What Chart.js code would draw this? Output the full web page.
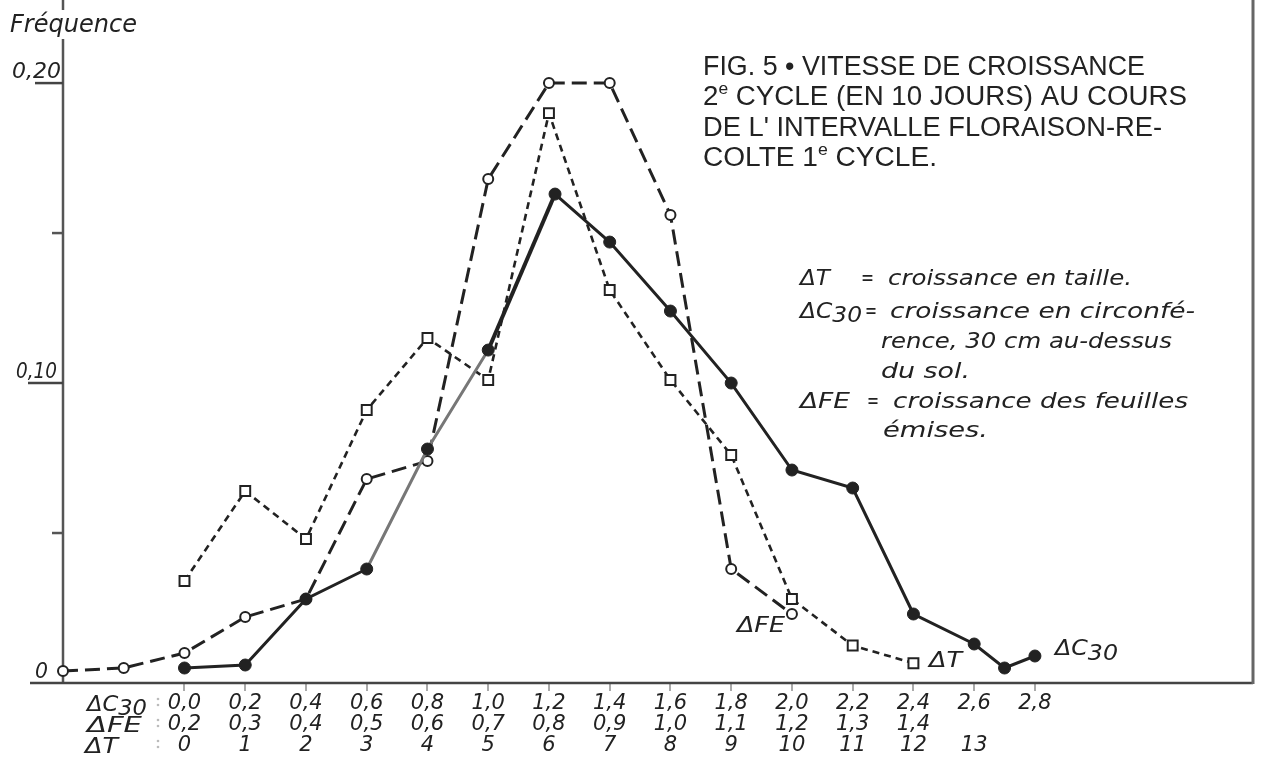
<!DOCTYPE html>
<html lang="fr">
<head>
<meta charset="utf-8">
<title>Fig. 5 - Vitesse de croissance</title>
<script src="https://cdn.jsdelivr.net/npm/chart.js@4.4.1/dist/chart.umd.min.js"></script>
<style>
  html, body { margin: 0; padding: 0; background: #fff; }
  #wrap { width: 1262px; height: 760px; }
</style>
</head>
<body>
<div id="wrap"><canvas id="fig5" width="1262" height="760"></canvas></div>
<script>
// x is a "step" number: step k <-> ΔC30 = 0,2k ; ΔFE = 0,2 + 0,1k ; ΔT = k
const c30Labels = ['0,0', '0,2', '0,4', '0,6', '0,8', '1,0', '1,2', '1,4', '1,6', '1,8', '2,0', '2,2', '2,4', '2,6', '2,8'];
const feLabels  = ['0,2', '0,3', '0,4', '0,5', '0,6', '0,7', '0,8', '0,9', '1,0', '1,1', '1,2', '1,3', '1,4'];
const tLabels   = ['0', '1', '2', '3', '4', '5', '6', '7', '8', '9', '10', '11', '12', '13'];

const yTickValues = [0, 0.10, 0.20];
const yTickLabels = ['0', '0,10', '0,20'];
const yMinorValues = [0.05, 0.15];

// ΔC30 - circonférence (points pleins, trait continu)
const c30X = [0, 1, 2, 3, 4, 5, 6.1, 7, 8, 9, 10, 11, 12, 13, 13.5, 14];
const c30Y = [0.005, 0.006, 0.028, 0.038, 0.078, 0.111, 0.163, 0.147, 0.124, 0.100, 0.071, 0.065, 0.023, 0.013, 0.005, 0.009];

// ΔFE - feuilles émises (cercles vides, tirets longs)
const feX = [-2, -1, 0, 1, 2, 3, 4, 5, 6, 7, 8, 9, 10];
const feY = [0.004, 0.005, 0.010, 0.022, 0.028, 0.068, 0.074, 0.168, 0.200, 0.200, 0.156, 0.038, 0.023];

// ΔT - taille (carrés vides, tirets courts)
const tX = [0, 1, 2, 3, 4, 5, 6, 7, 8, 9, 10, 11, 12];
const tY = [0.034, 0.064, 0.048, 0.091, 0.115, 0.101, 0.190, 0.131, 0.101, 0.076, 0.028, 0.0125, 0.0066];

const INK = '#222';
const HAND = 'DejaVu Sans';
const PRINT = 'Liberation Sans';

function toPoints(xs, ys) {
  return xs.map((x, i) => ({ x: x, y: ys[i] }));
}

// draw a row of text pieces [text, size, dy], squeezed to a given width
function drawRuns(ctx, family, style, parts, x, y, width) {
  const fontOf = p => style + ' ' + p[1] + 'px "' + family + '"';
  let total = 0;
  parts.forEach(p => { ctx.font = fontOf(p); total += ctx.measureText(p[0]).width; });
  const sx = width ? width / total : 1;
  ctx.save();
  ctx.translate(x, y);
  ctx.scale(sx, 1);
  ctx.textAlign = 'left';
  ctx.textBaseline = 'alphabetic';
  ctx.fillStyle = INK;
  let cx = 0;
  parts.forEach(p => {
    ctx.font = fontOf(p);
    ctx.fillText(p[0], cx, p[2] || 0);
    cx += ctx.measureText(p[0]).width;
  });
  ctx.restore();
}

const hand = (ctx, parts, x, y, w) => drawRuns(ctx, HAND, 'italic', parts, x, y, w);
const print = (ctx, parts, x, y, w) => drawRuns(ctx, PRINT, 'normal', parts, x, y, w);

function line(ctx, x1, y1, x2, y2, color, width) {
  ctx.beginPath();
  ctx.strokeStyle = color;
  ctx.lineWidth = width;
  ctx.moveTo(x1, y1);
  ctx.lineTo(x2, y2);
  ctx.stroke();
}

/**
 * Axes drawn by hand: the y axis is broken by "Fréquence",
 * the x axis runs left of the y axis, and a frame line closes the right side
 */
const axesPlugin = {
  id: 'axes',
  beforeDatasetsDraw(chart) {
    const ctx = chart.ctx;
    const area = chart.chartArea;
    const y = chart.scales.y;
    ctx.save();
    line(ctx, area.left, 39, area.left, area.bottom + 1, '#555', 2.5);
    line(ctx, area.left, 0, area.left, 10, '#555', 2.5);
    line(ctx, 30, area.bottom, area.right, area.bottom, '#444', 2.5);
    line(ctx, area.right, 0, area.right, area.bottom + 1, '#666', 3);

    yTickValues.forEach(v => {
      if (v === 0) return;
      const py = y.getPixelForValue(v);
      line(ctx, v === 0.2 ? 35 : 28, py, area.left, py, '#444', 2.5);
    });
    yMinorValues.forEach(v => {
      const py = y.getPixelForValue(v);
      line(ctx, 52, py, area.left, py, '#555', 2.5);
    });

    // faint colons between row names and values
    ctx.fillStyle = '#bbb';
    [699, 705, 720, 726, 741, 747].forEach(py => {
      ctx.beginPath();
      ctx.arc(158, py, 1.3, 0, Math.PI * 2);
      ctx.fill();
    });
    ctx.restore();
  },
  afterDraw(chart) {
    const ctx = chart.ctx;
    const y = chart.scales.y;

    // y tick labels, sitting just above their tick
    const yLab = { 0: [35, 13], 0.1: [16, 41], 0.2: [12, 49] };
    yTickValues.forEach((v, i) => {
      const py = y.getPixelForValue(v) - 5;
      hand(ctx, [[yTickLabels[i], 21]], yLab[v][0], py, yLab[v][1]);
    });
    hand(ctx, [['Fréquence', 24]], 10, 32, 127);

    // row names of the x axis
    hand(ctx, [['ΔC', 21], ['30', 21, 4]], 87, 711, 60);
    hand(ctx, [['ΔFE', 21]], 87, 732, 55);
    hand(ctx, [['ΔT', 21]], 85, 753, 33);

    // title
    print(ctx, [['FIG. 5 • VITESSE DE CROISSANCE', 27]], 703, 75, 442);
    print(ctx, [['2', 27], ['e', 17, -11], [' CYCLE (EN 10 JOURS) AU COURS', 27]], 703, 105, 484);
    print(ctx, [['DE L\' INTERVALLE FLORAISON-RE-', 27]], 703, 136, 459);
    print(ctx, [['COLTE 1', 27], ['e', 17, -11], [' CYCLE.', 27]], 703, 166, 234);

    // key
    hand(ctx, [['ΔT', 22]], 800, 285, 30);
    hand(ctx, [['=', 22]], 861, 285, 13);
    hand(ctx, [['croissance en taille.', 22]], 888, 285, 244);
    hand(ctx, [['ΔC', 22], ['30', 22, 4]], 800, 318, 62);
    hand(ctx, [['=', 22]], 865, 318, 12);
    hand(ctx, [['croissance en circonfé-', 22]], 890, 318, 305);
    hand(ctx, [['rence, 30 cm au-dessus', 22]], 881, 348, 291);
    hand(ctx, [['du sol.', 22]], 881, 378, 89);
    hand(ctx, [['ΔFE', 22]], 800, 408, 50);
    hand(ctx, [['=', 22]], 867, 408, 12);
    hand(ctx, [['croissance des feuilles', 22]], 893, 408, 295);
    hand(ctx, [['émises.', 22]], 883, 437, 105);

    // curve names
    hand(ctx, [['ΔFE', 21]], 737, 632, 48);
    hand(ctx, [['ΔT', 21]], 929, 667, 33);
    hand(ctx, [['ΔC', 21], ['30', 21, 5]], 1055, 655, 63);
  }
};

function xTickLabel(value) {
  const i = Math.round(value);
  if (Math.abs(value - i) > 1e-6 || i < 0 || i >= c30Labels.length) return '';
  return [c30Labels[i], feLabels[i] || '', tLabels[i] || ''];
}

function isLabelledTick(c) {
  if (!c.tick) return false;
  const v = c.tick.value;
  return Number.isInteger(v) && v >= 0 && v < c30Labels.length;
}

new Chart(document.getElementById('fig5'), {
  type: 'line',
  data: {
    datasets: [
      {
        label: 'ΔC30',
        data: toPoints(c30X, c30Y),
        borderColor: INK,
        borderWidth: 3,
        pointStyle: 'circle',
        pointRadius: 6,
        pointBackgroundColor: INK,
        pointBorderColor: INK,
        pointBorderWidth: 1,
        clip: false,
        segment: {
          borderColor: c => (c.p0DataIndex === 3 || c.p0DataIndex === 4) ? '#777' : undefined,
          borderWidth: c => c.p0DataIndex === 5 ? 4 : undefined
        }
      },
      {
        label: 'ΔFE',
        data: toPoints(feX, feY),
        borderColor: INK,
        borderWidth: 3,
        borderDash: [15, 7],
        pointStyle: 'circle',
        pointRadius: 5,
        pointBackgroundColor: '#fff',
        pointBorderColor: INK,
        pointBorderWidth: 2,
        clip: false
      },
      {
        label: 'ΔT',
        data: toPoints(tX, tY),
        borderColor: INK,
        borderWidth: 2.6,
        borderDash: [7, 5],
        pointStyle: 'rect',
        pointRadius: 7,
        pointBackgroundColor: '#fff',
        pointBorderColor: INK,
        pointBorderWidth: 2,
        clip: false
      }
    ]
  },
  options: {
    responsive: false,
    animation: false,
    devicePixelRatio: 1,
    layout: { padding: { left: 0, right: 4, top: 0, bottom: 0 } },
    plugins: { legend: { display: false }, tooltip: { enabled: false } },
    scales: {
      x: {
        type: 'linear',
        min: -2,
        max: 17.59,
        afterFit: s => { s.height = 77; },
        border: { display: false },
        grid: {
          drawOnChartArea: false,
          drawTicks: true,
          tickLength: 8,
          lineWidth: 2,
          color: c => isLabelledTick(c) ? '#aaa' : 'rgba(0,0,0,0)'
        },
        ticks: {
          stepSize: 1,
          autoSkip: false,
          maxRotation: 0,
          includeBounds: false,
          padding: 2,
          color: INK,
          font: { family: HAND, style: 'italic', size: 21, lineHeight: 1.0 },
          callback: xTickLabel
        }
      },
      y: {
        min: 0,
        max: 0.2247,
        afterFit: s => { s.width = 63; },
        ticks: { display: false },
        grid: { display: false },
        border: { display: false }
      }
    }
  },
  plugins: [axesPlugin]
});
</script>
</body>
</html>
